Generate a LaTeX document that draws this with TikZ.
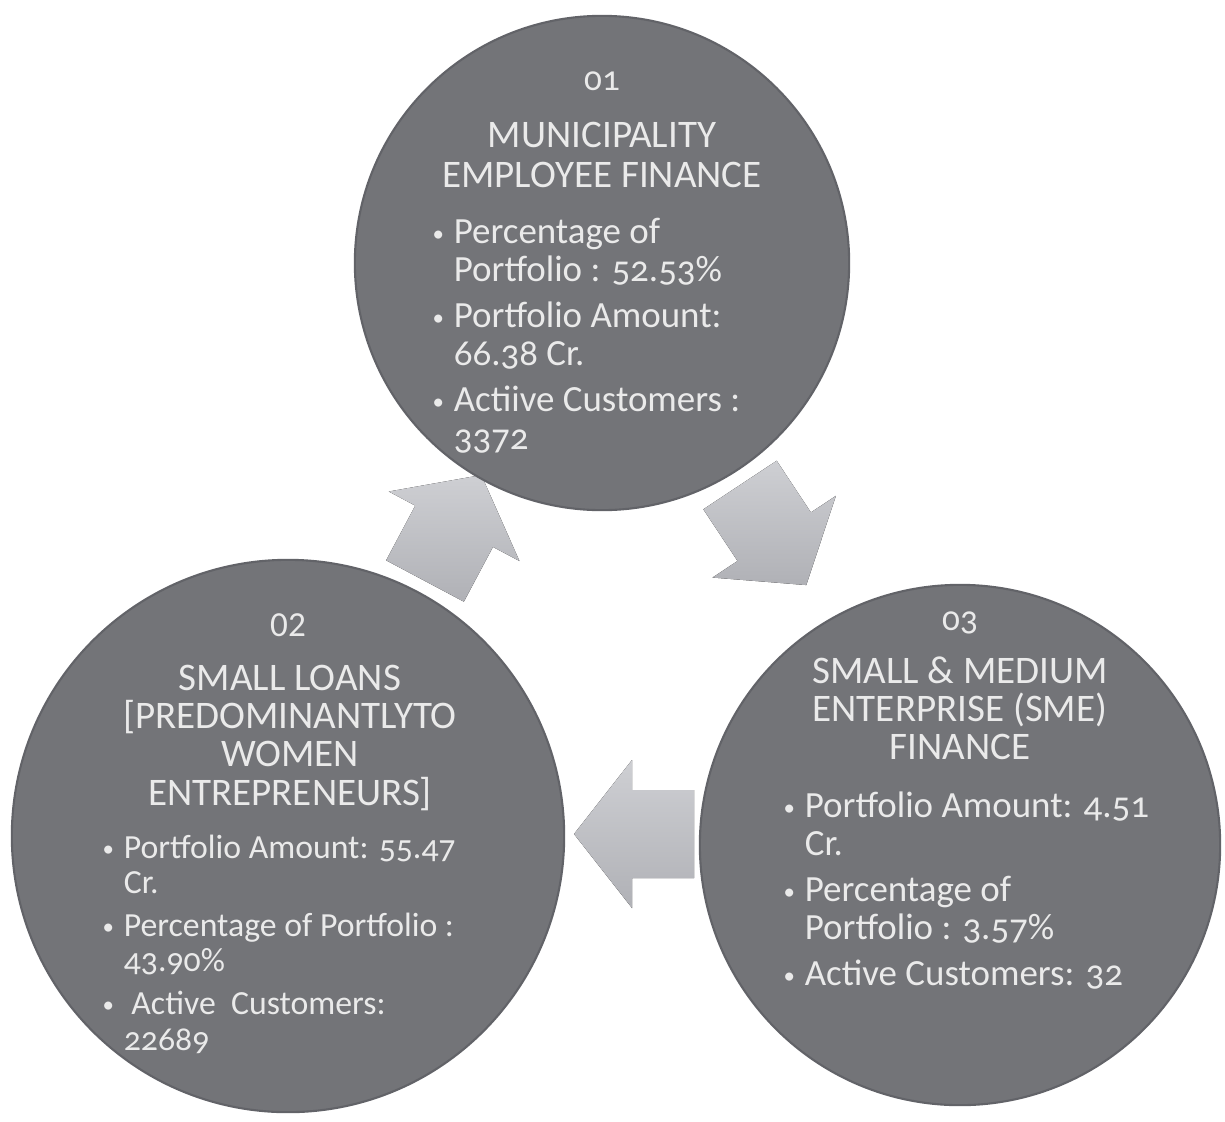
\documentclass[tikz,border=0pt]{standalone}
\usepackage{fontspec}
\setmainfont{Carlito}[Numbers=OldStyle]
\usetikzlibrary{shapes}

\definecolor{discgray}{RGB}{115,116,120}
\definecolor{discedge}{RGB}{98,99,104}
\definecolor{arrowlight}{RGB}{206,207,211}
\definecolor{arrowdark}{RGB}{176,177,182}
\definecolor{inkwhite}{RGB}{234,234,234}

% bullet box and the indent of a wrapped line
\newlength{\bulw}\setlength{\bulw}{6pt}
\newcommand{\bul}{\makebox[\bulw][l]{\raisebox{0.5pt}{\fontsize{6.5}{6.5}\selectfont\textbullet}}}
\newcommand{\cont}{\hspace*{\bulw}}
\newcommand{\headfont}{\fontsize{11.1}{10.9}\selectfont}
\newcommand{\listfont}{\fontsize{10.5}{11.0}\selectfont}
\newcommand{\smalllistfont}{\fontsize{9.6}{10.2}\selectfont}

% block arrow: tail centre x, tail centre y, direction
\newcommand{\blockarrow}[3]{%
  \begin{scope}[shift={(#1,#2)},rotate=#3]
    \fill[arrowfill] (0,-44) -- (62,-44) -- (62,-74) -- (120,0)
      -- (62,74) -- (62,44) -- (0,44) -- cycle;
  \end{scope}}

\begin{document}
\begin{tikzpicture}[x=0.01cm,y=-0.01cm]
\tikzstyle{bubble} = [circle,fill=discgray,draw=discedge,line width=0.6pt,inner sep=0pt]
\tikzstyle{arrowfill} = [top color=arrowlight,bottom color=arrowdark]
\tikzstyle{numtext} = [text=inkwhite,inner sep=0pt,anchor=base,font=\fontsize{10}{10}\selectfont]
\tikzstyle{headtext} = [text=inkwhite,inner sep=0pt,anchor=base]
\tikzstyle{listtext} = [text=inkwhite,inner sep=0pt,anchor=base west]
\useasboundingbox[fill=white] (0,0) rectangle (1225,1121);

% arrows go first, the discs sit on top of them
\blockarrow{425}{581}{62}
\blockarrow{740}{485}{-56.5}
\blockarrow{694}{834}{180}

% the three discs
\node (c1) [bubble,minimum size=4.94cm] at (602,263) {};
\node (c2) [bubble,minimum size=5.52cm] at (288,836) {};
\node (c3) [bubble,minimum size=5.20cm] at (960,845) {};

% 01
\node (num1) [numtext] at (602,90) {01};
\node (head1) [headtext] at (602,147) {\parbox[t]{5cm}{\centering\headfont
  MUNICIPALITY\\[0.5pt]EMPLOYEE FINANCE}};
\node (list1) [listtext] at (432,243) {\parbox[t]{5cm}{\raggedright\listfont
  \bul Percentage of\\ \cont Portfolio : 52.53\%\\[1.9pt]
  \bul Portfolio Amount:\\ \cont 66.38 Cr.\\[1.9pt]
  \bul Actiive Customers :\\ \cont 3372}};

% 02
\node (num2) [numtext] at (288,636) {\addfontfeatures{Numbers=Lining}02};
\node (head2) [headtext] at (290,690) {\parbox[t]{5cm}{\centering\headfont
  SMALL LOANS\\{[}PREDOMINANTLYTO\\WOMEN\\ENTREPRENEURS]}};
\node (list2) [listtext] at (102,858) {\parbox[t]{5cm}{\raggedright\smalllistfont
  \bul Portfolio Amount: 55.47\\ \cont Cr.\\[1.8pt]
  \bul Percentage of Portfolio :\\ \cont 43.90\%\\[1.8pt]
  \bul\ Active\ \ Customers:\\ \cont 22689}};

% 03
\node (num3) [numtext] at (960,630) {03};
\node (head3) [headtext] at (960,683) {\parbox[t]{5cm}{\centering\headfont
  SMALL \& MEDIUM\\ENTERPRISE (SME)\\FINANCE}};
\node (list3) [listtext] at (783,817) {\parbox[t]{5cm}{\raggedright\listfont
  \bul Portfolio Amount: 4.51\\ \cont Cr.\\[1.9pt]
  \bul Percentage of\\ \cont Portfolio : 3.57\%\\[1.9pt]
  \bul Active Customers: 32}};
\end{tikzpicture}
\end{document}
